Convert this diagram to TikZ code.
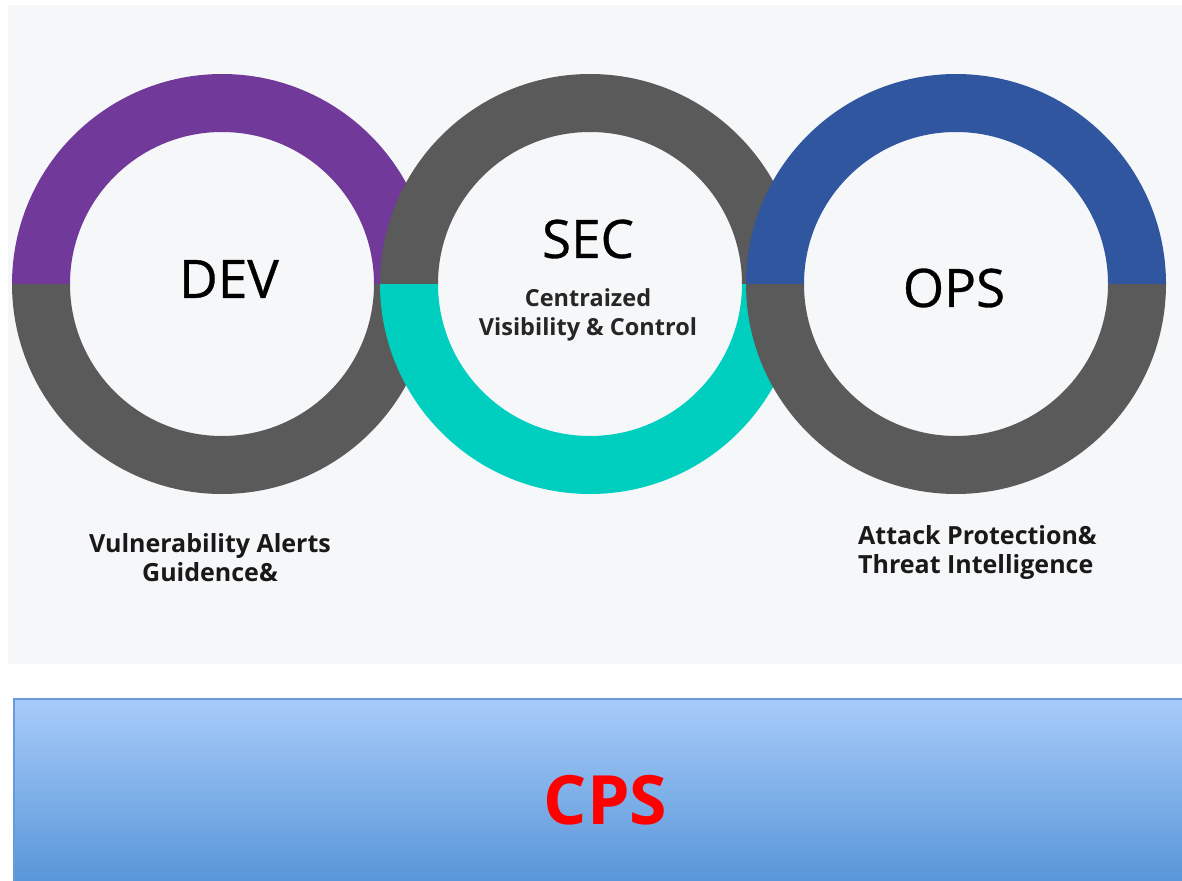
\documentclass[tikz,border=0pt]{standalone}
\usepackage{fontspec}
\setmainfont{Open Sans}
\usepackage{tikz}
\usetikzlibrary{positioning,calc}

\definecolor{devpurple}{RGB}{112,57,154}
\definecolor{ringgray}{RGB}{90,90,90}
\definecolor{secteal}{RGB}{0,206,190}
\definecolor{opsblue}{RGB}{48,86,160}
\definecolor{panelbg}{RGB}{246,247,249}
\definecolor{boxtop}{RGB}{168,204,250}
\definecolor{boxbot}{RGB}{88,150,216}
\definecolor{boxline}{RGB}{105,155,220}

\tikzstyle{title}  = [font=\fontsize{53}{60}\selectfont\addfontfeature{FakeBold=0.6},
                      text=black, inner sep=0pt]
\tikzstyle{sub}    = [font=\bfseries\fontsize{23.5}{29}\selectfont, text=black!85,
                      align=center, inner sep=0pt]
\tikzstyle{note}   = [font=\bfseries\fontsize{25}{29}\selectfont, text=black!90,
                      inner sep=0pt]
\tikzstyle{cpsbox} = [rectangle, draw=boxline, line width=1.5pt, top color=boxtop,
                      bottom color=boxbot, minimum width=1169pt, minimum height=183pt,
                      inner sep=0pt]
\tikzstyle{cps}    = [font=\bfseries\fontsize{68}{70}\selectfont, text=red, inner sep=0pt]

% half ring: centre, start angle, colour
\newcommand{\halfring}[3]{
  \fill[#3] (#1) ++(#2:210) arc[start angle=#2, end angle=#2+180, radius=210]
    -- ++(#2+180:-58) arc[start angle=#2+180, end angle=#2, radius=152] -- cycle;
}

\begin{document}
\begin{tikzpicture}[x=1pt, y=1pt]
    \useasboundingbox (0,0) rectangle (1182,-880);
    \fill[panelbg] (8,-5) rectangle (1182,-664);

    \coordinate (dev) at (222,-284);
    \coordinate[right=368pt of dev] (sec);
    \coordinate[right=366pt of sec] (ops);

    \halfring{dev}{0}{devpurple}
    \halfring{dev}{180}{ringgray}
    \halfring{sec}{0}{ringgray}
    \halfring{sec}{180}{secteal}
    \halfring{ops}{0}{opsblue}
    \halfring{ops}{180}{ringgray}

    \node[title] (devlbl) at ([xshift=7pt,yshift=5pt]dev) {DEV};
    \node[title] (seclbl) at ([xshift=-2pt,yshift=45pt]sec) {SEC};
    \node[sub, below=30pt of seclbl] (secnote) {Centraized\\Visibility \& Control};
    \node[title] (opslbl) at ([xshift=-2pt,yshift=-4pt]ops) {OPS};

    \node[note, align=center] (devnote) at (210,-558) {Vulnerability Alerts\\Guidence\&};
    \node[note, align=left, anchor=west] (opsnote) at (858,-552) {Attack Protection\&\\Threat Intelligence};

    \node[cpsbox] (base) at (598.5,-790.5) {};
    \node[cps] (cpslbl) at ([xshift=7pt,yshift=-10pt]base.center) {CPS};
\end{tikzpicture}
\end{document}
